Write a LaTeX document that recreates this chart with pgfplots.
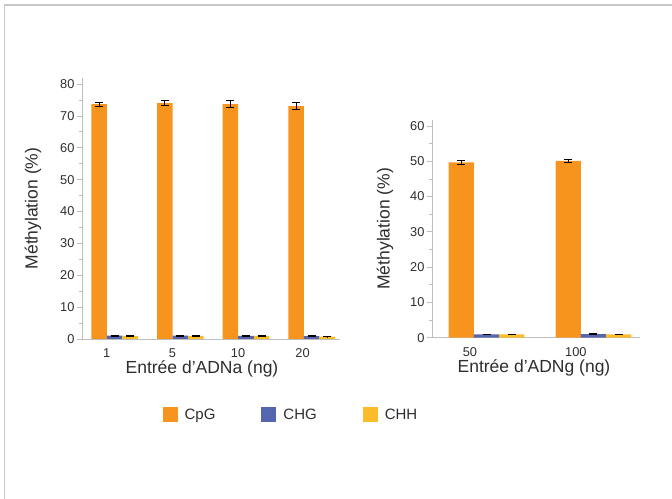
\documentclass[border=0pt]{standalone}
\usepackage{pgfplots}
\pgfplotsset{compat=1.18}
\usepackage{fontspec}
\setmainfont{Liberation Sans}
\definecolor{cpg}{RGB}{247,148,30}
\definecolor{chg}{RGB}{85,101,174}
\definecolor{chh}{RGB}{252,187,40}
\definecolor{txt}{RGB}{45,45,45}
\definecolor{axc}{RGB}{190,190,190}
\definecolor{frame}{RGB}{200,200,200}
\pgfplotsset{
  myaxis/.style={
    scale only axis,
    anchor=south west,
    axis x line*=bottom,
    axis y line*=left,
    axis line style={axc, line width=0.9bp},
    every tick/.style={axc, line width=0.8bp},
    tick align=outside,
    major tick length=5bp,
    minor tick length=3bp,
    minor y tick num=1,
    xtick style={draw=none},
    ymin=0,
    /pgf/number format/assume math mode=true,
    tick label style={font=\fontsize{12.8bp}{15bp}\selectfont, text=txt},
    yticklabel style={xshift=1bp},
    xticklabel style={yshift=-1bp},
    ylabel={Méthylation (\%)},
    ybar,
    bar width=0.236,
    error bars/y dir=both,
    error bars/y explicit,
    error bars/error bar style={black, line width=0.9bp},
    error bars/error mark options={rotate=90, mark size=4bp, black, line width=0.9bp},
  },
}
\begin{document}
\begin{tikzpicture}
\useasboundingbox (0bp,0bp) rectangle (672bp,499bp);
\draw[frame, line width=1.3bp] (4.5bp,0bp) -- (4.5bp,494bp) -- (672bp,494bp);
% left panel
\begin{axis}[myaxis,
  at={(82bp,160bp)}, width=258bp, height=261bp,
  xmin=-0.495, xmax=3.43, ymax=81.9,
  ytick={0,10,...,80},
  xtick={-0.12,0.88,1.88,2.86},
  xticklabels={1,5,10,20},
  xlabel={Entrée d’ADNa (ng)},
  every axis y label/.style={at={(axis description cs:-0.19,0.5)}, rotate=90, anchor=center, font=\fontsize{17.5bp}{21bp}\selectfont, text=txt},
  every axis x label/.style={at={(axis description cs:0.5,-0.134)}, xshift=-9bp, anchor=base, font=\fontsize{17.5bp}{21bp}\selectfont, text=txt},
  legend style={at={(axis description cs:0.81,-0.29)}, anchor=center, draw=none, fill=none,
    legend columns=3, font=\fontsize{15bp}{17bp}\selectfont, text=txt,
    /tikz/every odd column/.append style={column sep=5bp},
    /tikz/every even column/.append style={column sep=44bp}},
  legend image code/.code={\fill[#1] (0bp,-7.5bp) rectangle (15bp,7.5bp);},
]
\addplot[fill=cpg, draw=none, bar shift=-0.236] coordinates {
  (0,73.7) +- (0,0.6)
  (1,74.0) +- (0,0.8)
  (2,73.7) +- (0,1.1)
  (3,73.1) +- (0,1.1)
};
\addplot[fill=chg, draw=none, bar shift=0] coordinates {
  (0,1.05) +- (0,0.1)
  (1,1.05) +- (0,0.1)
  (2,1.0) +- (0,0.1)
  (3,0.9) +- (0,0.1)
};
\addplot[fill=chh, draw=none, bar shift=0.236] coordinates {
  (0,1.0) +- (0,0.1)
  (1,1.0) +- (0,0.1)
  (2,0.95) +- (0,0.1)
  (3,0.75) +- (0,0.1)
};
\legend{CpG,CHG,CHH}
\end{axis}
% right panel
\begin{axis}[myaxis,
  at={(432bp,161.3bp)}, width=208bp, height=217.7bp,
  xmin=-0.51, xmax=1.435, ymax=61.7,
  ytick={0,10,...,60},
  xtick={-0.155,0.835},
  xticklabels={50,100},
  xlabel={Entrée d’ADNg (ng)},
  every axis y label/.style={at={(axis description cs:-0.226,0.5)}, rotate=90, anchor=center, font=\fontsize{17.5bp}{21bp}\selectfont, text=txt},
  every axis x label/.style={at={(axis description cs:0.5,-0.158)}, xshift=-2bp, anchor=base, font=\fontsize{17.5bp}{21bp}\selectfont, text=txt},
]
\addplot[fill=cpg, draw=none, bar shift=-0.236] coordinates {
  (0,49.7) +- (0,0.6)
  (1,50.1) +- (0,0.3)
};
\addplot[fill=chg, draw=none, bar shift=0] coordinates {
  (0,0.95) +- (0,0.1)
  (1,1.0) +- (0,0.1)
};
\addplot[fill=chh, draw=none, bar shift=0.236] coordinates {
  (0,0.95) +- (0,0.1)
  (1,0.95) +- (0,0.1)
};
\end{axis}
\end{tikzpicture}
\end{document}
